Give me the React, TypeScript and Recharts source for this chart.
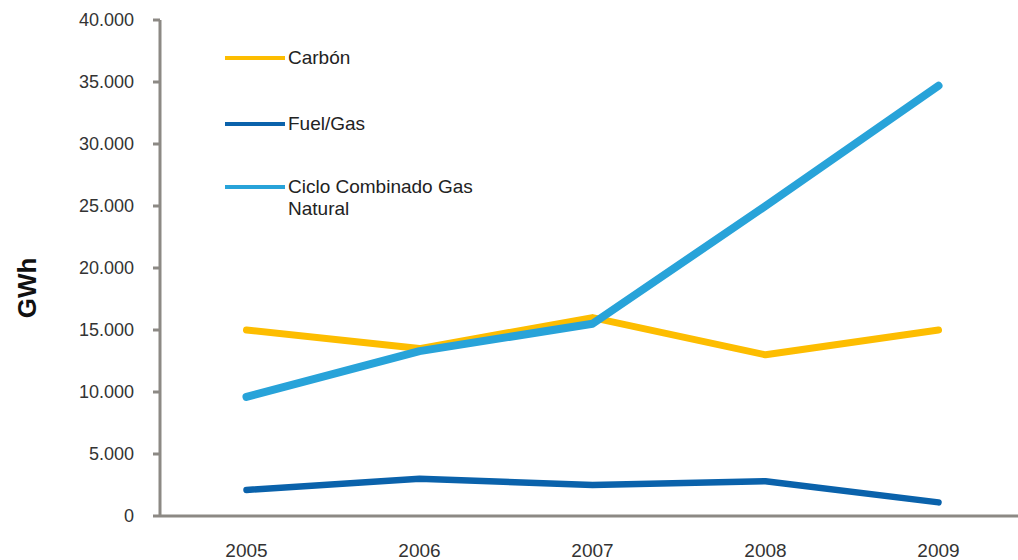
import { LineChart, Line, XAxis, YAxis, Legend } from 'recharts'

const years = ['2005', '2006', '2007', '2008', '2009']
const carbon = [15000, 13500, 16000, 13000, 15000]
const fuelGas = [2100, 3000, 2500, 2800, 1100]
const ccgt = [9600, 13300, 15500, 25000, 34700]
const yTicks = [0, 5000, 10000, 15000, 20000, 25000, 30000, 35000, 40000]

const series = [
  { key: 'carbon', name: 'Carbón', color: '#FDBD00', width: 7 },
  { key: 'fuelGas', name: 'Fuel/Gas', color: '#0A62AB', width: 6.5 },
  { key: 'ccgt', name: 'Ciclo Combinado Gas Natural', color: '#28A3D9', width: 8 },
]

const data = years.map((year, i) => ({
  x: i,
  year,
  carbon: carbon[i],
  fuelGas: fuelGas[i],
  ccgt: ccgt[i],
}))

const FONT = '"Liberation Sans", Arial, sans-serif'
const AXIS = '#8C8984'

const formatThousands = (v: number) =>
  v === 0 ? '0' : String(v).replace(/\B(?=(\d{3})+(?!\d))/g, '.')

// hand-placed legend rows, like the original slide
const rowGaps = [0, 44, 41]

const renderLegend = () => (
  <div style={{ fontFamily: FONT, fontSize: 19, color: '#222' }}>
    {series.map((s, i) => (
      <div
        key={s.key}
        style={{ display: 'flex', alignItems: 'flex-start', marginTop: rowGaps[i] }}
      >
        <div
          style={{
            width: 60,
            height: 4,
            marginTop: 9,
            marginRight: 3,
            background: s.color,
            flex: 'none',
          }}
        />
        <div style={{ width: 200, lineHeight: '22px' }}>{s.name}</div>
      </div>
    ))}
  </div>
)

const YLabel = ({ viewBox }: any) => {
  const cy = viewBox.y + viewBox.height / 2 + 20
  return (
    <text
      x={27}
      y={cy}
      transform={`rotate(-90, 27, ${cy})`}
      textAnchor="middle"
      dominantBaseline="central"
      fontFamily={FONT}
      fontSize={26}
      fontWeight="bold"
      fill="#111"
    >
      GWh
    </text>
  )
}

export default function App() {
  return (
    <div
      style={{
        position: 'fixed',
        left: 0,
        top: 0,
        width: 1018,
        height: 560,
        overflow: 'hidden',
        background: '#fff',
      }}
    >
      <LineChart
        width={1032}
        height={560}
        data={data}
        margin={{ top: 20, right: 7, left: 0, bottom: 0 }}
      >
        {/* tick marks between categories */}
        <XAxis
          xAxisId="bounds"
          type="number"
          dataKey="x"
          domain={[-0.5, 4.5]}
          ticks={[-0.5, 0.5, 1.5, 2.5, 3.5, 4.5]}
          tick={false}
          tickLine={{ stroke: AXIS, strokeWidth: 3 }}
          tickSize={6}
          axisLine={false}
          height={0}
        />
        <XAxis
          type="number"
          dataKey="x"
          domain={[-0.5, 4.5]}
          ticks={[0, 1, 2, 3, 4]}
          tickFormatter={(i: number) => years[i]}
          tickLine={false}
          tickMargin={22}
          axisLine={{ stroke: AXIS, strokeWidth: 3 }}
          tick={{ fill: '#333', fontSize: 19, fontFamily: FONT }}
          height={44}
        />
        <YAxis
          domain={[0, 40000]}
          ticks={yTicks}
          tickFormatter={formatThousands}
          width={160}
          tickSize={7}
          tickMargin={19}
          axisLine={{ stroke: AXIS, strokeWidth: 3 }}
          tickLine={{ stroke: AXIS, strokeWidth: 3 }}
          tick={{ fill: '#333', fontSize: 18, fontFamily: FONT }}
          label={<YLabel />}
        />
        <Legend
          layout="vertical"
          align="center"
          verticalAlign="middle"
          content={renderLegend}
          wrapperStyle={{ left: 225, top: 47, width: 270 }}
        />
        {series.map((s) => (
          <Line
            key={s.key}
            type="linear"
            dataKey={s.key}
            name={s.name}
            stroke={s.color}
            strokeWidth={s.width}
            strokeLinecap="round"
            strokeLinejoin="round"
            dot={false}
            activeDot={false}
            isAnimationActive={false}
          />
        ))}
      </LineChart>
    </div>
  )
}
